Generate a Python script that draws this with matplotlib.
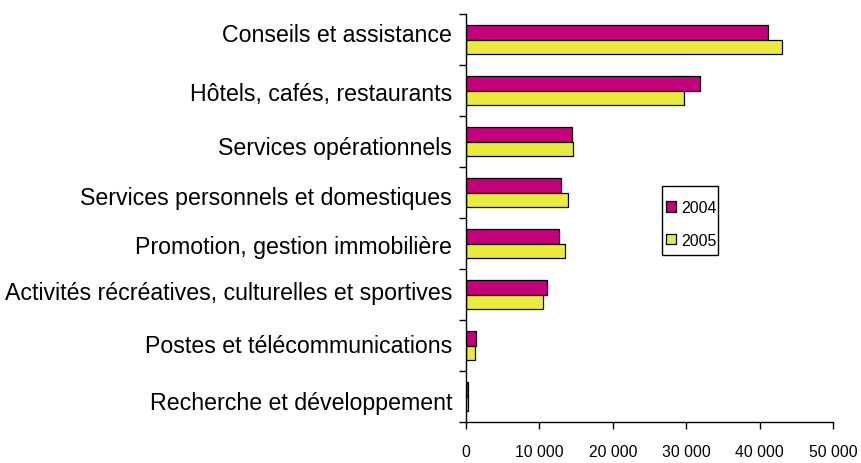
import matplotlib
matplotlib.use("Agg")
import matplotlib.pyplot as plt
import numpy as np
from matplotlib.patches import Rectangle

fam = "Liberation Sans"

categories = [
    "Conseils et assistance",
    "Hôtels, cafés, restaurants",
    "Services opérationnels",
    "Services personnels et domestiques",
    "Promotion, gestion immobilière",
    "Activités récréatives, culturelles et sportives",
    "Postes et télécommunications",
    "Recherche et développement",
]
values_2004 = [41100, 31900, 14500, 12950, 12650, 11100, 1400, 320]
values_2005 = [43000, 29750, 14600, 13850, 13550, 10450, 1230, 300]
series_labels = ["2004", "2005"]
xticks = [0, 10000, 20000, 30000, 40000, 50000]
xtick_labels = ["0", "10 000", "20 000", "30 000", "40 000", "50 000"]

# small vertical offsets (pixels, down positive) of the category labels as in the original
label_offsets_px = [-4.5, 3, 6.5, 5.5, 3, -2, 0, 6]

fig = plt.figure(figsize=(8.62, 4.64), dpi=100)
ax = fig.add_axes([466/862, 1-423/464, (833-466)/862, (423-15)/464])

n = len(categories)
pos = np.arange(n)
h = 0.29
ax.barh(pos - h/2, values_2004, height=h, color="#C4007A", edgecolor="black", linewidth=0.9, label=series_labels[0])
ax.barh(pos + h/2, values_2005, height=h, color="#EBEB3C", edgecolor="black", linewidth=0.9, label=series_labels[1])

ax.set_ylim(n - 0.5, -0.5)
ax.set_xlim(0, 50000)
ax.set_yticks(np.arange(n + 1) - 0.5)
ax.set_yticklabels([])
ax.tick_params(axis="y", which="major", length=5, direction="out", width=1)
for i, (cat, off) in enumerate(zip(categories, label_offsets_px)):
    ax.annotate(cat, xy=(0, pos[i]), xycoords=("axes fraction", "data"),
                xytext=(-10, -off * 0.72), textcoords="offset points",
                ha="right", va="center", fontsize=16.7, family=fam,
                annotation_clip=False)
ax.set_xticks(xticks)
ax.set_xticklabels(xtick_labels, fontsize=11.3, family=fam)
ax.tick_params(axis="x", length=5, direction="out", width=1, pad=11)
for s in ["top", "right"]:
    ax.spines[s].set_visible(False)
for s in ["left", "bottom"]:
    ax.spines[s].set_linewidth(1)

leg = fig.legend(loc="upper left", bbox_to_anchor=(666/862, 1-201/464),
                 prop={"family": fam, "size": 11.5}, frameon=False,
                 handlelength=0.65, handleheight=0.65,
                 handletextpad=0.3, labelspacing=1.1, borderpad=0, borderaxespad=0)
fig.patches.append(Rectangle((662/862, 1-256/464), (718-662)/862, (256-187)/464,
                             transform=fig.transFigure, fill=False, edgecolor="black",
                             linewidth=1))

fig.savefig("out.png", dpi=100)
